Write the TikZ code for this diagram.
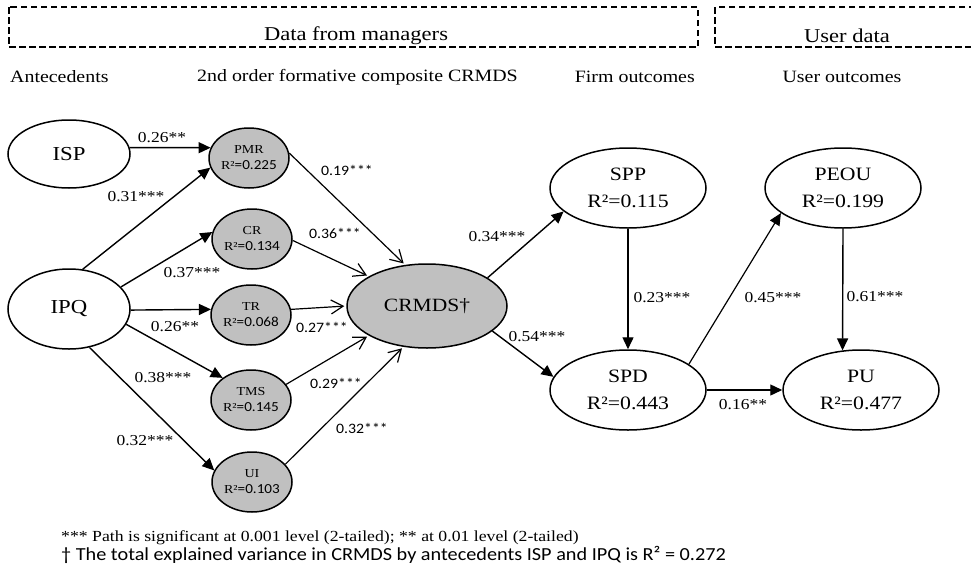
\documentclass[tikz,border=0pt]{standalone}
\usepackage{fontspec}
\setmainfont{Liberation Serif}[FakeStretch=1.15]
\newfontfamily\sansc{Carlito}[FakeStretch=1.1]
\usetikzlibrary{arrows.meta,shapes.geometric}
\newcommand\fsz[2]{\fontsize{#1}{#2}\selectfont}
\newcommand\sr[1]{{\sansc\fontsize{13.8}{16}\selectfont #1}}
\definecolor{shade}{HTML}{C0C0C0}
\tikzset{
  bigell/.style={ellipse, draw, line width=1.5pt, fill=white, minimum width=156pt, minimum height=80pt, inner sep=0pt, align=center, font=\fsz{18.9}{27}},
  smallell/.style={ellipse, draw, line width=1.5pt, fill=shade, minimum width=80pt, minimum height=60pt, inner sep=0pt, align=center, font=\fsz{12.2}{16}},
  lab/.style={font=\fsz{15.2}{18}, inner sep=0pt},
  slab/.style={font=\sansc\fsz{14.4}{17}, inner sep=0pt},
  hdr/.style={font=\fsz{17.3}{20}, inner sep=0pt},
  boxlab/.style={font=\fsz{19.6}{22}, inner sep=0pt},
  dbox/.style={line width=1.3pt, dash pattern=on 6.5pt off 3.5pt},
  farr/.style={line width=1.4pt, -{Triangle[length=12pt,width=11pt]}},
  barb/.style={line width=1.2pt, shorten >=2pt, -{Straight Barb[length=12pt,width=14pt,line width=1.2pt]}},
}
\begin{document}
\begin{tikzpicture}[x=1pt,y=-1pt]
\useasboundingbox (0,0) rectangle (971,570);
\fill[white] (0,0) rectangle (971,570);

% dashed boxes
\draw[dbox] (9,7) rectangle (698,47);
\draw[dbox] (985,7) -- (715,7) -- (715,47) -- (985,47);
\node[boxlab] (bl1) at (356,36) {Data from managers};
\node[boxlab] (bl2) at (847,36) {User data};

% headers
\node[hdr, anchor=west] (h1) at (10,77) {Antecedents};
\node[hdr, anchor=west] (h2) at (197,77) {2nd order formative composite CRMDS};
\node[hdr, anchor=east] (h3) at (695,77) {Firm outcomes};
\node[hdr] (h4) at (842,77) {User outcomes};

% antecedents
\node[bigell, minimum width=122pt, minimum height=68pt, font=\fsz{19.8}{24}] (ISP) at (69,154) {ISP};
\node[bigell, minimum width=122pt, minimum height=80pt, font=\fsz{19.8}{24}] (IPQ) at (69,309) {IPQ};

% first-order
\node[smallell] (PMR) at (249,158) {PMR\\R²\sr{=0.225}};
\node[smallell] (CR)  at (252,239) {CR\\R²\sr{=0.134}};
\node[smallell] (TR)  at (251,315) {TR\\R²\sr{=0.068}};
\node[smallell] (TMS) at (251,400) {TMS\\R²\sr{=0.145}};
\node[smallell] (UI)  at (252,482) {UI\\R²\sr{=0.103}};

% CRMDS
\node[ellipse, draw, line width=1.5pt, fill=shade, minimum width=160pt, minimum height=84pt, inner sep=0pt, font=\fsz{18.7}{22}] (CRMDS) at (427,306) {CRMDS†};

% outcomes
\node[bigell] (SPP)  at (628,188) {SPP\\R²=0.115};
\node[bigell] (PEOU) at (843,188) {PEOU\\R²=0.199};
\node[bigell] (SPD)  at (628,390) {SPD\\R²=0.443};
\node[bigell] (PU)   at (861,390) {PU\\R²=0.477};

% antecedent arrows
\draw[farr] (ISP.6) -- (PMR.165);
\draw[farr] (IPQ.71.6) -- (PMR.194);
\draw[farr] (IPQ.23.5) -- (CR.170);
\draw[farr] (IPQ.-1) -- (TR.172);
\draw[farr] (IPQ.-15.7) -- (TMS.142.8);
\draw[farr] (IPQ.-62) -- (UI.163);

% first-order to CRMDS
\draw[barb] (PMR.7) -- (CRMDS.118.6);
\draw[barb] (CR.-2) -- (CRMDS.153);
\draw[barb] (TR.8) -- (CRMDS.180);
\draw[barb] (TMS.24.7) -- (CRMDS.207.8);
\draw[barb] (UI.28.5) -- (CRMDS.240.4);

% outcomes
\draw[farr] (CRMDS.25.8) -- (SPP.200.1);
\draw[farr] (CRMDS.-21.8) -- (SPD.170.7);
\draw[farr] (SPP.south) -- (SPD.north);
\draw[farr, line width=1.2pt] (SPD.23.5) -- (PEOU.-158);
\draw[farr] (PEOU.south) -- (PU.115);
\draw[farr] (SPD.east) -- (PU.west);

% labels
\node[lab] (l1) at (162,138) {0.26**};
\node[lab] (l2) at (136,197) {0.31***};
\node[lab] (l3) at (192,273) {0.37***};
\node[lab] (l4) at (175,327) {0.26**};
\node[lab] (l5) at (163,378) {0.38***};
\node[lab] (l6) at (145,441) {0.32***};
\node[slab] (s1) at (347,170) {0.19***};
\node[slab] (s2) at (335,233) {0.36***};
\node[slab] (s3) at (322,327) {0.27***};
\node[slab] (s4) at (336,383) {0.29***};
\node[slab] (s5) at (362,428) {0.32***};
\node[lab] (r1) at (497,237) {0.34***};
\node[lab] (r2) at (537,337) {0.54***};
\node[lab] (r3) at (662,298) {0.23***};
\node[lab] (r4) at (773,298) {0.45***};
\node[lab] (r5) at (875,297) {0.61***};
\node[lab] (r6) at (743,405) {0.16**};

% footnotes
\node[anchor=west, font=\fsz{15.4}{18}, inner sep=0pt] (f1) at (61,538) {*** Path is significant at 0.001 level (2-tailed); ** at 0.01 level (2-tailed)};
\node[anchor=west, font=\sansc\fsz{18.4}{20}, inner sep=0pt] (f2) at (61,555) {† The total explained variance in CRMDS by antecedents ISP and IPQ is R² = 0.272};
\end{tikzpicture}
\end{document}
